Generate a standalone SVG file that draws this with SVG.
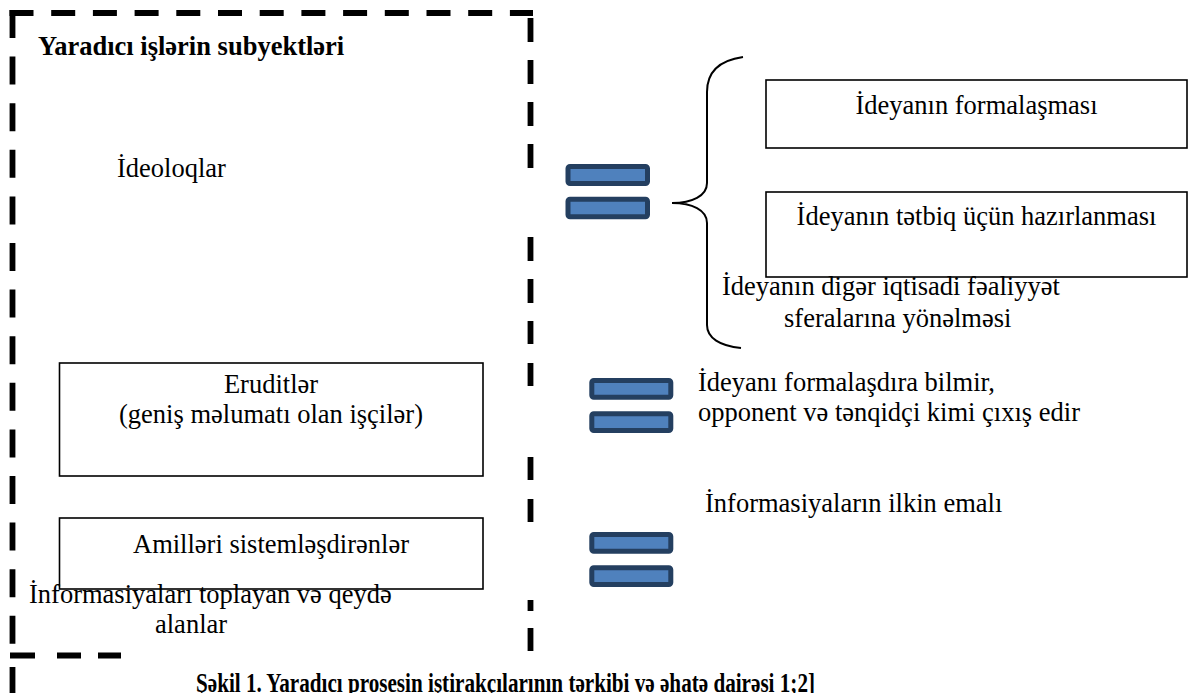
<svg xmlns="http://www.w3.org/2000/svg" width="1189" height="693" viewBox="0 0 1189 693">
<style>
text{font-family:"Liberation Serif","Times New Roman",serif;font-size:26.5px;fill:#000}
.b{font-weight:bold}
.c{text-anchor:middle}
.box{fill:#fff;stroke:#000;stroke-width:1.6}
.dash{stroke:#000;stroke-width:5.8;fill:none}
.eq{fill:#4F81BD;stroke:#243F60;stroke-width:5}
.brace{fill:none;stroke:#000;stroke-width:2}
</style>
<rect width="1189" height="693" fill="#fff"/>
<g id="frame">
<path class="dash" d="M9.5 13 H533" stroke-dasharray="24 17.7"/>
<path class="dash" d="M12.5 10 V646" stroke-dasharray="28 18.6"/>
<path class="dash" d="M10 655.5 H35 M57 655.5 H81 M98 655.5 H121 M12.5 667 V693"/>
<path class="dash" d="M530.5 18 V42 M530.5 60 V84 M530.5 102 V126 M530.5 144 V168 M530.5 237 V261 M530.5 279 V303 M530.5 321 V344 M530.5 363 V386 M530.5 457 V480 M530.5 499 V522 M530.5 600 V611 M530.5 628 V651"/>
</g>
<g id="title"><text class="b" x="38" y="55">Yaradıcı işlərin subyektləri</text></g>
<g id="ideoloqlar"><text x="117" y="177">İdeoloqlar</text></g>
<g id="eruditler">
<rect class="box" x="59.5" y="363" width="423.5" height="113"/>
<text class="c" x="271" y="393">Eruditlər</text>
<text class="c" x="271" y="423">(geniş məlumatı olan işçilər)</text>
</g>
<g id="amilleri">
<rect class="box" x="59.5" y="518" width="423.5" height="71"/>
<text class="c" x="271" y="553">Amilləri sistemləşdirənlər</text>
</g>
<g id="informasiya-toplayan">
<text x="29" y="603">İnformasiyaları toplayan və qeydə</text>
<text x="155" y="633">alanlar</text>
</g>
<g id="ideya-formalasmasi">
<rect class="box" x="766" y="80" width="421" height="68"/>
<text class="c" x="976.5" y="114">İdeyanın formalaşması</text>
</g>
<g id="ideya-tetbiq">
<rect class="box" x="766" y="192" width="421" height="85"/>
<text class="c" x="976.5" y="225">İdeyanın tətbiq üçün hazırlanması</text>
</g>
<g id="ideya-diger">
<text x="722" y="295">İdeyanın digər iqtisadi fəaliyyət</text>
<text x="784" y="327">sferalarına yönəlməsi</text>
</g>
<g id="ideya-formalasdira">
<text x="698" y="391">İdeyanı formalaşdıra bilmir,</text>
<text x="698" y="421">opponent və tənqidçi kimi çıxış edir</text>
</g>
<g id="informasiya-emali"><text x="705" y="512">İnformasiyaların ilkin emalı</text></g>
<g id="connectors">
<path class="brace" d="M743 57 C722 60 707 70 707 92 L707 183 C707 196 692 203 672 203 C692 203 707 210 707 223 L707 325 C707 338 720 346 741 348"/>
<rect class="eq" x="568" y="166.5" width="79.5" height="17" rx="2"/>
<rect class="eq" x="568" y="199.2" width="79.5" height="17.5" rx="2"/>
<rect class="eq" x="591.8" y="380.5" width="79" height="16.7" rx="2"/>
<rect class="eq" x="591.8" y="413.8" width="79" height="16.7" rx="2"/>
<rect class="eq" x="591.8" y="534.5" width="79" height="16.7" rx="2"/>
<rect class="eq" x="591.8" y="567.8" width="79" height="16.7" rx="2"/>
</g>
<g id="caption"><text class="b" x="196" y="692" style="font-size:27px" textLength="619" lengthAdjust="spacingAndGlyphs">Şəkil 1. Yaradıcı prosesin  iştirakçılarının tərkibi və əhatə dairəsi 1;2]</text></g>
</svg>
